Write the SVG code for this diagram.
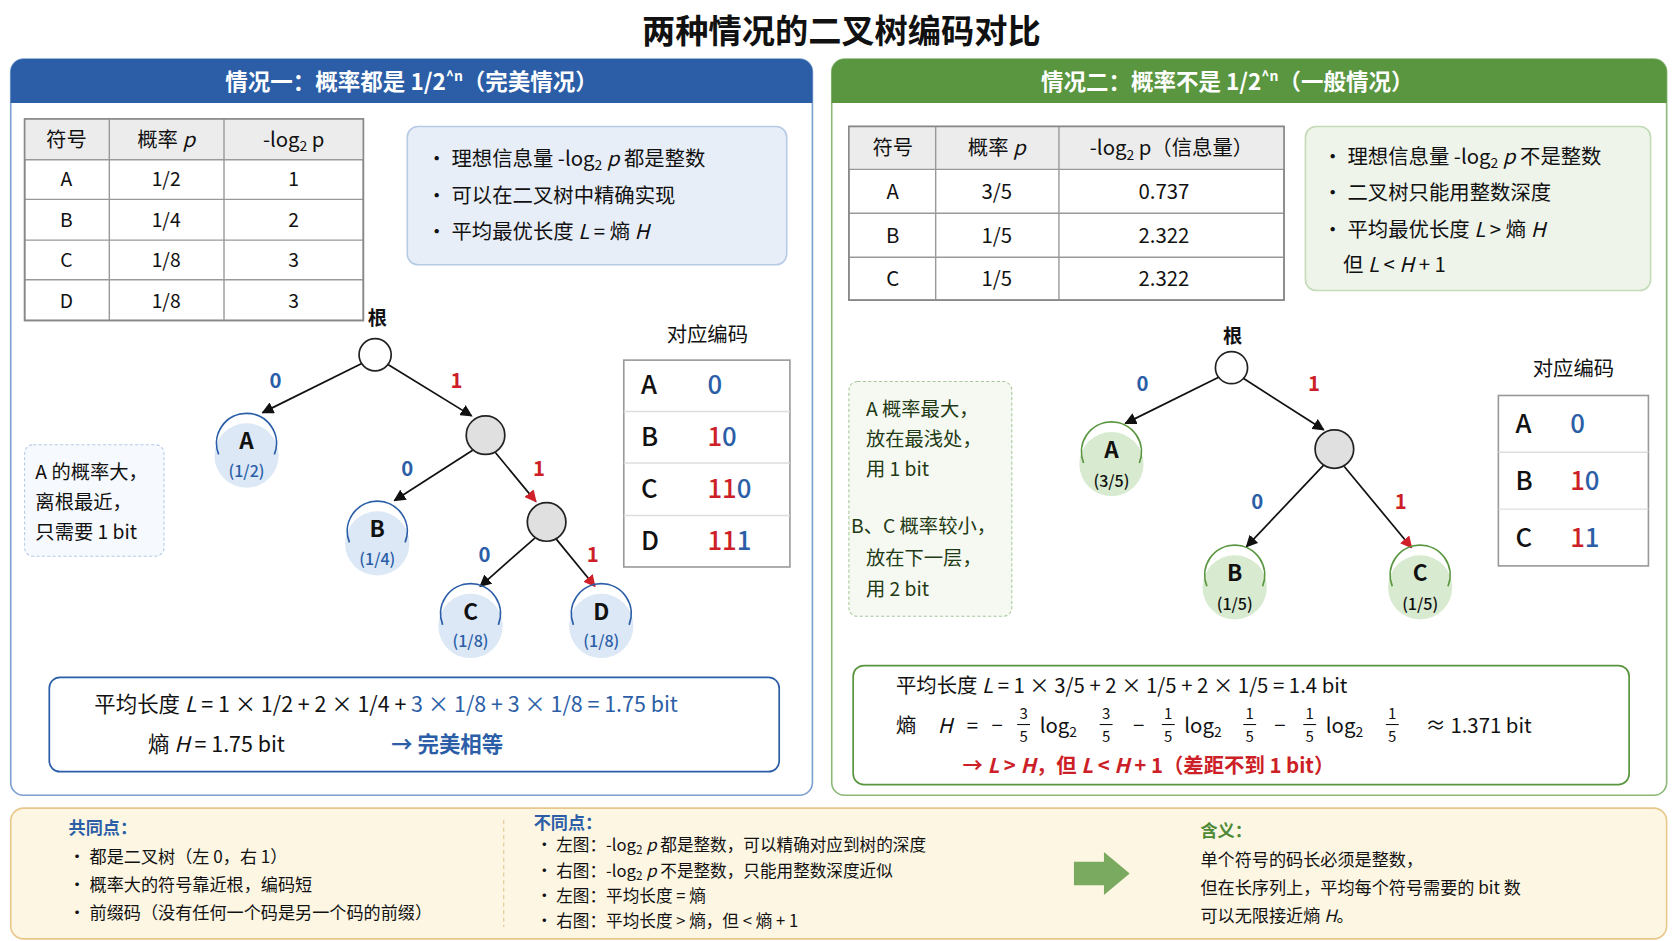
<svg xmlns="http://www.w3.org/2000/svg" width="1672" height="941" viewBox="0 0 1672 941">
<defs>
<marker id="ak" viewBox="0 0 10 10" refX="9" refY="5" markerWidth="7" markerHeight="7" orient="auto"><path d="M0,0 L10,5 L0,10 z" fill="#111"/></marker>
<marker id="ar" viewBox="0 0 10 10" refX="9" refY="5" markerWidth="7" markerHeight="7" orient="auto"><path d="M0,0 L10,5 L0,10 z" fill="#d0202a"/></marker>
</defs>
<style>
text{font-family:"Noto Sans CJK SC","Noto Sans",sans-serif;fill:#111}
.t19{font-size:19px}.t18{font-size:18px}.t16{font-size:16px}.t15{font-size:15.5px}
.c{text-anchor:middle}
.b{font-weight:bold}
.blue{fill:#2b5ea7}.red{fill:#cc1f27}.grn{fill:#4e8a35}
.it{font-style:italic}
.edge{stroke:#111;stroke-width:1.6;fill:none}
.tb{fill:#fff;stroke:#999;stroke-width:1.5}
.th{fill:#ececec}
.gl{stroke:#999;stroke-width:1.3}
.inner{fill:#e0e0e0;stroke:#222;stroke-width:1.6}
.lbl{font-size:19px;font-weight:bold}
.code{font-size:24px;font-weight:500}
.pr{font-size:15px;font-weight:500}
.arcB{fill:none;stroke:#2b5ea7;stroke-width:1.6}
.arcG{fill:none;stroke:#5a9640;stroke-width:1.6}
</style>
<g transform="scale(1.0718)">
<text x="785" y="40" class="c b" style="font-size:31px">两种情况的二叉树编码对比</text>

<g id="panel1">
<rect x="10" y="55" width="748" height="687" rx="12" fill="#fff" stroke="#7a9fd0" stroke-width="1.5"/>
<path d="M10,96 V67 A12,12 0 0 1 22,55 H746 A12,12 0 0 1 758,67 V96 Z" fill="#2b5ea7"/>
<text x="384" y="84" class="c b" style="font-size:21px;fill:#fff">情况一：概率都是 1/2<tspan dy="-8" style="font-size:13px">^n</tspan><tspan dy="8">（完美情况）</tspan></text>
</g>
<g id="table1">
<rect x="23" y="111" width="316" height="188" class="tb"/>
<rect x="23" y="111" width="316" height="38" class="th"/>
<path d="M102,111V299M209,111V299M23,149H339M23,186H339M23,224H339M23,261H339" class="gl"/>
<rect x="23" y="111" width="316" height="188" fill="none" stroke="#888" stroke-width="1.5"/>
<text x="62" y="137" class="c t19">符号</text><text x="155" y="137" class="c t19">概率 <tspan class="it">p</tspan></text><text x="274" y="137" class="c t19">-log<tspan dy="4" style="font-size:13px">2</tspan><tspan dy="-4"> p</tspan></text>
<text x="62" y="174" class="c t18">A</text><text x="155" y="174" class="c t18">1/2</text><text x="274" y="174" class="c t18">1</text>
<text x="62" y="212" class="c t18">B</text><text x="155" y="212" class="c t18">1/4</text><text x="274" y="212" class="c t18">2</text>
<text x="62" y="249" class="c t18">C</text><text x="155" y="249" class="c t18">1/8</text><text x="274" y="249" class="c t18">3</text>
<text x="62" y="287" class="c t18">D</text><text x="155" y="287" class="c t18">1/8</text><text x="274" y="287" class="c t18">3</text>
</g>
<g id="info1">
<rect x="380" y="118" width="354" height="129" rx="10" fill="#e8eef8" stroke="#b8cbe6" stroke-width="1.5"/>
<text x="398" y="155" class="t19">• 理想信息量 -log<tspan dy="4" style="font-size:13px">2</tspan><tspan dy="-4"> </tspan><tspan class="it">p</tspan> 都是整数</text>
<text x="398" y="189" class="t19">• 可以在二叉树中精确实现</text>
<text x="398" y="223" class="t19">• 平均最优长度 <tspan class="it">L</tspan> = 熵 <tspan class="it">H</tspan></text>
</g>
<g id="note1">
<rect x="23" y="415" width="130" height="104" rx="8" fill="#f6f9fd" stroke="#b8cbe6" stroke-dasharray="3,2"/>
<text x="33" y="447" class="t18">A 的概率大，</text><text x="33" y="475" class="t18">离根最近，</text><text x="33" y="503" class="t18">只需要 1 bit</text>
</g>
<g id="edges1">
<line x1="338" y1="339" x2="245" y2="385" class="edge" marker-end="url(#ak)"/>
<line x1="362" y1="340" x2="440" y2="388" class="edge" marker-end="url(#ak)"/>
<line x1="441" y1="420" x2="368" y2="467" class="edge" marker-end="url(#ak)"/>
<line x1="462" y1="422" x2="500" y2="468" class="edge" marker-end="url(#ar)"/>
<line x1="499" y1="502" x2="448" y2="547" class="edge" marker-end="url(#ak)"/>
<line x1="519" y1="503" x2="555" y2="547" class="edge" marker-end="url(#ar)"/>
<text x="257" y="362" class="c lbl blue">0</text><text x="426" y="362" class="c lbl red">1</text>
<text x="380" y="444" class="c lbl blue">0</text><text x="503" y="444" class="c lbl red">1</text>
<text x="452" y="524" class="c lbl blue">0</text><text x="553" y="524" class="c lbl red">1</text>
</g>
<g id="tree1">
<text x="352" y="303" class="c b t18">根</text>
<circle cx="350" cy="331" r="15" fill="#fff" stroke="#222" stroke-width="1.6"/>
<circle cx="453" cy="406" r="18" class="inner"/>
<circle cx="510" cy="487" r="18" class="inner"/>
</g>
<g id="leafA1"><circle cx="230" cy="425" r="30" fill="#dce8f6"/><path d="M204,424 A28,28 0 1 1 256,424" class="arcB"/><text x="230" y="419" class="c b" style="font-size:21px">A</text><text x="230" y="445" class="c pr blue">(1/2)</text></g>
<g id="leafB1"><circle cx="352" cy="507" r="30" fill="#dce8f6"/><path d="M326,506 A28,28 0 1 1 378,506" class="arcB"/><text x="352" y="501" class="c b" style="font-size:21px">B</text><text x="352" y="527" class="c pr blue">(1/4)</text></g>
<g id="leafC1"><circle cx="439" cy="584" r="30" fill="#dce8f6"/><path d="M413,583 A28,28 0 1 1 465,583" class="arcB"/><text x="439" y="578" class="c b" style="font-size:21px">C</text><text x="439" y="604" class="c pr blue">(1/8)</text></g>
<g id="leafD1"><circle cx="561" cy="584" r="30" fill="#dce8f6"/><path d="M535,583 A28,28 0 1 1 587,583" class="arcB"/><text x="561" y="578" class="c b" style="font-size:21px">D</text><text x="561" y="604" class="c pr blue">(1/8)</text></g>
<g id="codes1">
<text x="660" y="319" class="c t19">对应编码</text>
<rect x="582" y="336" width="155" height="193" class="tb"/>
<path d="M582,384H737M582,432H737M582,481H737" stroke="#ddd" stroke-width="1.3"/>
<text x="598" y="368" class="code">A</text><text x="660" y="368" class="code blue">0</text>
<text x="598" y="416" class="code">B</text><text x="660" y="416" class="code"><tspan class="red">1</tspan><tspan class="blue">0</tspan></text>
<text x="598" y="465" class="code">C</text><text x="660" y="465" class="code"><tspan class="red">11</tspan><tspan class="blue">0</tspan></text>
<text x="598" y="513" class="code">D</text><text x="660" y="513" class="code"><tspan class="red">11</tspan><tspan class="blue">1</tspan></text>
</g>
<g id="formula1">
<rect x="46" y="632" width="681" height="88" rx="10" fill="#fff" stroke="#2b5ea7" stroke-width="1.6"/>
<text x="88" y="664" style="font-size:20px">平均长度 <tspan class="it">L</tspan> = 1 × 1/2 + 2 × 1/4 + <tspan class="blue">3 × 1/8 + 3 × 1/8 = 1.75 bit</tspan></text>
<text x="138" y="702" style="font-size:20px">熵  <tspan class="it">H</tspan> = 1.75 bit</text>
<text x="365" y="702" class="b blue" style="font-size:20px">→ 完美相等</text>
</g>

<g id="panel2">
<rect x="776" y="55" width="779" height="687" rx="12" fill="#fff" stroke="#8cb878" stroke-width="1.5"/>
<path d="M776,96 V67 A12,12 0 0 1 788,55 H1543 A12,12 0 0 1 1555,67 V96 Z" fill="#5a9640"/>
<text x="1145" y="84" class="c b" style="font-size:21px;fill:#fff">情况二：概率不是 1/2<tspan dy="-8" style="font-size:13px">^n</tspan><tspan dy="8">（一般情况）</tspan></text>
</g>
<g id="table2">
<rect x="792" y="118" width="406" height="162" class="tb"/>
<rect x="792" y="118" width="406" height="40" class="th"/>
<path d="M873,118V280M988,118V280M792,158H1198M792,199H1198M792,240H1198" class="gl"/>
<rect x="792" y="118" width="406" height="162" fill="none" stroke="#888" stroke-width="1.5"/>
<text x="833" y="145" class="c t19">符号</text><text x="930" y="145" class="c t19">概率 <tspan class="it">p</tspan></text><text x="1093" y="145" class="c t19">-log<tspan dy="4" style="font-size:13px">2</tspan><tspan dy="-4"> p（信息量）</tspan></text>
<text x="833" y="186" class="c t19">A</text><text x="930" y="186" class="c t19">3/5</text><text x="1086" y="186" class="c t19">0.737</text>
<text x="833" y="227" class="c t19">B</text><text x="930" y="227" class="c t19">1/5</text><text x="1086" y="227" class="c t19">2.322</text>
<text x="833" y="267" class="c t19">C</text><text x="930" y="267" class="c t19">1/5</text><text x="1086" y="267" class="c t19">2.322</text>
</g>
<g id="info2">
<rect x="1218" y="118" width="322" height="153" rx="10" fill="#eef4ea" stroke="#c3dbb6" stroke-width="1.5"/>
<text x="1234" y="153" class="t19">• 理想信息量 -log<tspan dy="4" style="font-size:13px">2</tspan><tspan dy="-4"> </tspan><tspan class="it">p</tspan> 不是整数</text>
<text x="1234" y="187" class="t19">• 二叉树只能用整数深度</text>
<text x="1234" y="221" class="t19">• 平均最优长度 <tspan class="it">L</tspan> &gt; 熵 <tspan class="it">H</tspan></text>
<text x="1253" y="254" class="t19">但 <tspan class="it">L</tspan> &lt; <tspan class="it">H</tspan> + 1</text>
</g>
<g id="note2">
<rect x="792" y="356" width="152" height="219" rx="8" fill="#f5f9f2" stroke="#a9c99a" stroke-dasharray="3,2"/>
<text x="808" y="388" class="t18" style="fill:#1f3a14">A 概率最大，</text>
<text x="808" y="416" class="t18" style="fill:#1f3a14">放在最浅处，</text>
<text x="808" y="444" class="t18" style="fill:#1f3a14">用 1 bit</text>
<text x="794" y="497" class="t18" style="fill:#1f3a14">B、C 概率较小，</text>
<text x="808" y="527" class="t18" style="fill:#1f3a14">放在下一层，</text>
<text x="808" y="556" class="t18" style="fill:#1f3a14">用 2 bit</text>
</g>
<g id="edges2">
<line x1="1137" y1="352" x2="1050" y2="395" class="edge" marker-end="url(#ak)"/>
<line x1="1160" y1="353" x2="1235" y2="401" class="edge" marker-end="url(#ak)"/>
<line x1="1235" y1="434" x2="1163" y2="510" class="edge" marker-end="url(#ak)"/>
<line x1="1254" y1="435" x2="1317" y2="511" class="edge" marker-end="url(#ar)"/>
<text x="1066" y="365" class="c lbl blue">0</text><text x="1226" y="365" class="c lbl red">1</text>
<text x="1173" y="475" class="c lbl blue">0</text><text x="1307" y="475" class="c lbl red">1</text>
</g>
<g id="tree2">
<text x="1150" y="320" class="c b t18">根</text>
<circle cx="1149" cy="343" r="15" fill="#fff" stroke="#222" stroke-width="1.6"/>
<circle cx="1245" cy="419" r="18" class="inner"/>
</g>
<g id="leafA2"><circle cx="1037" cy="433" r="30" fill="#d8ebd0"/><path d="M1011,432 A28,28 0 1 1 1063,432" class="arcG"/><text x="1037" y="427" class="c b" style="font-size:21px">A</text><text x="1037" y="454" class="c pr">(3/5)</text></g>
<g id="leafB2"><circle cx="1152" cy="548" r="30" fill="#d8ebd0"/><path d="M1126,547 A28,28 0 1 1 1178,547" class="arcG"/><text x="1152" y="542" class="c b" style="font-size:21px">B</text><text x="1152" y="569" class="c pr">(1/5)</text></g>
<g id="leafC2"><circle cx="1325" cy="548" r="30" fill="#d8ebd0"/><path d="M1299,547 A28,28 0 1 1 1351,547" class="arcG"/><text x="1325" y="542" class="c b" style="font-size:21px">C</text><text x="1325" y="569" class="c pr">(1/5)</text></g>
<g id="codes2">
<text x="1468" y="351" class="c t19">对应编码</text>
<rect x="1398" y="369" width="140" height="159" class="tb"/>
<path d="M1398,422H1538M1398,475H1538" stroke="#ddd" stroke-width="1.3"/>
<text x="1414" y="404" class="code">A</text><text x="1465" y="404" class="code blue">0</text>
<text x="1414" y="457" class="code">B</text><text x="1465" y="457" class="code"><tspan class="red">1</tspan><tspan class="blue">0</tspan></text>
<text x="1414" y="510" class="code">C</text><text x="1465" y="510" class="code"><tspan class="red">1</tspan><tspan class="blue">1</tspan></text>
</g>
<g id="formula2">
<rect x="796" y="621" width="724" height="111" rx="10" fill="#fff" stroke="#5a9640" stroke-width="1.6"/>
<text x="836" y="647" class="t19">平均长度 <tspan class="it">L</tspan> = 1 × 3/5 + 2 × 1/5 + 2 × 1/5 = 1.4 bit</text>
<text x="836" y="684" class="t19">熵</text><text x="875" y="684" class="t19 it">H</text><text x="902" y="684" class="t19">=</text><text x="925" y="684" class="t19">−</text>
<text x="955" y="671" class="c" style="font-size:14px">3</text><line x1="949" y1="676" x2="961" y2="676" stroke="#111"/><text x="955" y="692" class="c" style="font-size:14px">5</text>
<text x="970" y="684" class="t19">log<tspan dy="4" style="font-size:13px">2</tspan></text>
<text x="1032" y="671" class="c" style="font-size:14px">3</text><line x1="1026" y1="676" x2="1038" y2="676" stroke="#111"/><text x="1032" y="692" class="c" style="font-size:14px">5</text>
<text x="1057" y="684" class="t19">−</text>
<text x="1090" y="671" class="c" style="font-size:14px">1</text><line x1="1084" y1="676" x2="1096" y2="676" stroke="#111"/><text x="1090" y="692" class="c" style="font-size:14px">5</text>
<text x="1105" y="684" class="t19">log<tspan dy="4" style="font-size:13px">2</tspan></text>
<text x="1166" y="671" class="c" style="font-size:14px">1</text><line x1="1160" y1="676" x2="1172" y2="676" stroke="#111"/><text x="1166" y="692" class="c" style="font-size:14px">5</text>
<text x="1189" y="684" class="t19">−</text>
<text x="1222" y="671" class="c" style="font-size:14px">1</text><line x1="1216" y1="676" x2="1228" y2="676" stroke="#111"/><text x="1222" y="692" class="c" style="font-size:14px">5</text>
<text x="1237" y="684" class="t19">log<tspan dy="4" style="font-size:13px">2</tspan></text>
<text x="1299" y="671" class="c" style="font-size:14px">1</text><line x1="1293" y1="676" x2="1305" y2="676" stroke="#111"/><text x="1299" y="692" class="c" style="font-size:14px">5</text>
<text x="1330" y="684" class="t19">≈ 1.371 bit</text>
<text x="898" y="721" class="b red" style="font-size:19px">→ <tspan class="it">L</tspan> &gt; <tspan class="it">H</tspan>，但 <tspan class="it">L</tspan> &lt; <tspan class="it">H</tspan> + 1（差距不到 1 bit）</text>
</g>

<g id="summary">
<rect x="10" y="754" width="1545" height="122" rx="12" fill="#fdf6e3" stroke="#e8c88a" stroke-width="1.5"/>
<text x="64" y="778" class="t16 b blue">共同点：</text>
<text x="64" y="805" class="t16">• 都是二叉树（左 0，右 1）</text>
<text x="64" y="831" class="t16">• 概率大的符号靠近根，编码短</text>
<text x="64" y="857" class="t16">• 前缀码（没有任何一个码是另一个码的前缀）</text>
<line x1="470" y1="765" x2="470" y2="865" stroke="#e0c890" stroke-dasharray="4,3"/>
<text x="498" y="773" class="t16 b blue">不同点：</text>
<text x="500" y="794" class="t15">• 左图：-log<tspan dy="3" style="font-size:11px">2</tspan><tspan dy="-3"> </tspan><tspan class="it">p</tspan> 都是整数，可以精确对应到树的深度</text>
<text x="500" y="818" class="t15">• 右图：-log<tspan dy="3" style="font-size:11px">2</tspan><tspan dy="-3"> </tspan><tspan class="it">p</tspan> 不是整数，只能用整数深度近似</text>
<text x="500" y="842" class="t15">• 左图：平均长度 = 熵</text>
<text x="500" y="865" class="t15">• 右图：平均长度 &gt; 熵，但 &lt; 熵 + 1</text>
<path d="M1002,804 H1030 V795 L1054,815 L1030,835 V826 H1002 Z" fill="#7aaa60"/>
<text x="1120" y="781" class="t16 b grn">含义：</text>
<text x="1120" y="808" class="t16">单个符号的码长必须是整数，</text>
<text x="1120" y="834" class="t16">但在长序列上，平均每个符号需要的 bit 数</text>
<text x="1120" y="860" class="t16">可以无限接近熵 <tspan class="it">H</tspan>。</text>
</g>
</g>
</svg>
